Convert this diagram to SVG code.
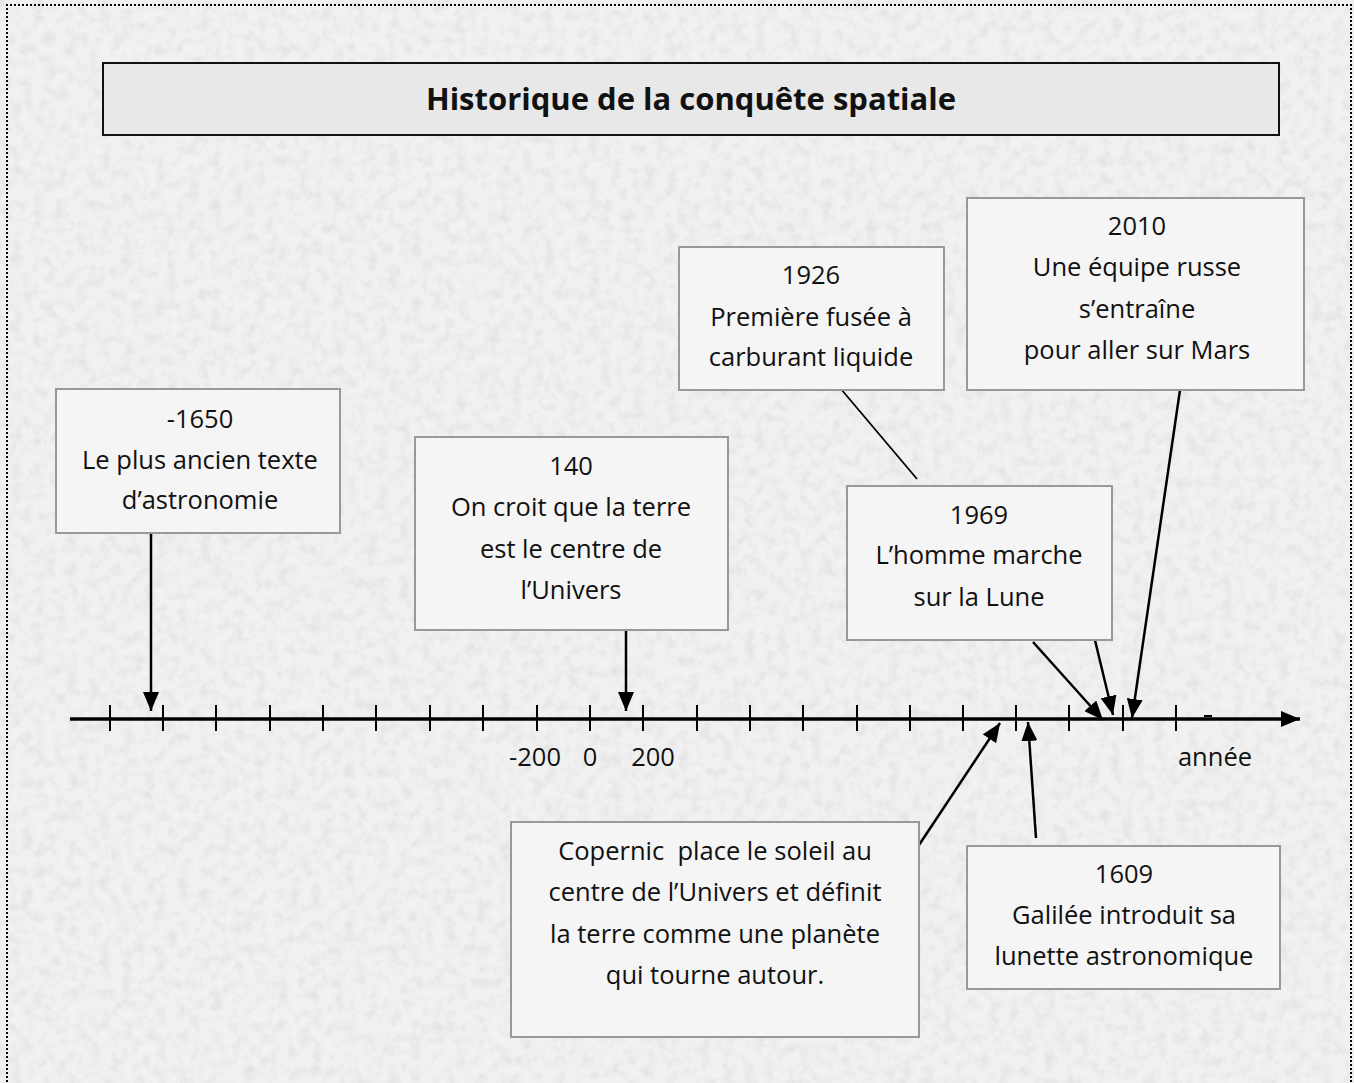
<svg xmlns="http://www.w3.org/2000/svg" width="1354" height="1083" viewBox="0 0 1354 1083">
<style>
.t{font-family:"Open Sans","Liberation Sans",sans-serif;font-size:25.5px;fill:#111;text-anchor:middle}
.title{font-family:"Open Sans","Liberation Sans",sans-serif;font-size:31px;font-weight:bold;fill:#111;text-anchor:middle}
.box{fill:#f5f5f5;stroke:#999;stroke-width:2}
.conn{stroke:#000;stroke-width:2.5;fill:none}
.tick{stroke:#000;stroke-width:2}
</style>
<defs>
<filter id="paper" x="0" y="0" width="100%" height="100%">
<feTurbulence type="fractalNoise" baseFrequency="0.09" numOctaves="3" seed="4"/>
<feColorMatrix type="matrix" values="0 0 0 0 0.55  0 0 0 0 0.55  0 0 0 0 0.55  1.3 0 0 0 -0.55"/>
</filter>
<marker id="ah" markerUnits="userSpaceOnUse" markerWidth="20" markerHeight="16" refX="19" refY="8" orient="auto">
<path d="M0,0 L19,8 L0,16 z" fill="#000"/>
</marker>
</defs>
<rect x="0" y="0" width="1354" height="1083" fill="#f1f1f1"/>
<rect x="0" y="0" width="1354" height="1083" filter="url(#paper)" opacity="0.5"/>
<path d="M7,1090 V5 H1351 V1090" fill="none" stroke="#000" stroke-width="2" stroke-dasharray="2 2" shape-rendering="crispEdges"/>

<g id="title">
<rect x="103" y="63" width="1176" height="72" fill="#e8e8e8" stroke="#111" stroke-width="2"/>
<text class="title" x="691" y="110">Historique de la conquête spatiale</text>
</g>

<g id="timeline">
<line x1="70" y1="719" x2="1300" y2="719" stroke="#000" stroke-width="3.5" marker-end="url(#ah)"/>
<g class="tick">
<line x1="110" y1="705" x2="110" y2="731"/><line x1="163" y1="705" x2="163" y2="731"/><line x1="216" y1="705" x2="216" y2="731"/><line x1="270" y1="705" x2="270" y2="731"/><line x1="323" y1="705" x2="323" y2="731"/><line x1="376" y1="705" x2="376" y2="731"/><line x1="430" y1="705" x2="430" y2="731"/><line x1="483" y1="705" x2="483" y2="731"/><line x1="537" y1="705" x2="537" y2="731"/><line x1="590" y1="705" x2="590" y2="731"/><line x1="643" y1="705" x2="643" y2="731"/><line x1="697" y1="705" x2="697" y2="731"/><line x1="750" y1="705" x2="750" y2="731"/><line x1="803" y1="705" x2="803" y2="731"/><line x1="857" y1="705" x2="857" y2="731"/><line x1="910" y1="705" x2="910" y2="731"/><line x1="963" y1="705" x2="963" y2="731"/><line x1="1016" y1="705" x2="1016" y2="731"/><line x1="1069" y1="705" x2="1069" y2="731"/><line x1="1123" y1="705" x2="1123" y2="731"/><line x1="1176" y1="705" x2="1176" y2="731"/>
</g>
<line x1="1204" y1="716" x2="1212" y2="716" stroke="#000" stroke-width="2"/>
<text class="t" x="535" y="766">-200</text>
<text class="t" x="590" y="766">0</text>
<text class="t" x="653" y="766">200</text>
<text class="t" x="1215" y="766">année</text>
</g>

<g id="connectors">
<line class="conn" x1="151" y1="533" x2="151" y2="711" marker-end="url(#ah)"/>
<line class="conn" x1="626" y1="630" x2="626" y2="711" marker-end="url(#ah)"/>
<line class="conn" x1="919" y1="845" x2="1000" y2="723" marker-end="url(#ah)"/>
<line class="conn" x1="1036" y1="838" x2="1028" y2="722" marker-end="url(#ah)"/>
<line class="conn" x1="1033" y1="642" x2="1103" y2="720" marker-end="url(#ah)"/>
<line class="conn" x1="1093" y1="632" x2="1113" y2="715" marker-end="url(#ah)"/>
<line class="conn" x1="1180" y1="390" x2="1132" y2="718" marker-end="url(#ah)"/>
<line x1="841" y1="389" x2="917" y2="479" stroke="#000" stroke-width="1.8"/>
</g>

<g id="n1650">
<rect class="box" x="56" y="389" width="284" height="144"/>
<text class="t" x="200" y="428">-1650</text>
<text class="t" x="200" y="469">Le plus ancien texte</text>
<text class="t" x="200" y="509">d’astronomie</text>
</g>

<g id="n140">
<rect class="box" x="415" y="437" width="313" height="193"/>
<text class="t" x="571" y="475">140</text>
<text class="t" x="571" y="516">On croit que la terre</text>
<text class="t" x="571" y="558">est le centre de</text>
<text class="t" x="571" y="599">l’Univers</text>
</g>

<g id="n1926">
<rect class="box" x="679" y="247" width="265" height="143"/>
<text class="t" x="811" y="284">1926</text>
<text class="t" x="811" y="326">Première fusée à</text>
<text class="t" x="811" y="366">carburant liquide</text>
</g>

<g id="n2010">
<rect class="box" x="967" y="198" width="337" height="192"/>
<text class="t" x="1137" y="235">2010</text>
<text class="t" x="1137" y="276">Une équipe russe</text>
<text class="t" x="1137" y="318">s’entraîne</text>
<text class="t" x="1137" y="359">pour aller sur Mars</text>
</g>

<g id="n1969">
<rect class="box" x="847" y="486" width="265" height="154"/>
<text class="t" x="979" y="524">1969</text>
<text class="t" x="979" y="564">L’homme marche</text>
<text class="t" x="979" y="606">sur la Lune</text>
</g>

<g id="ncopernic">
<rect class="box" x="511" y="822" width="408" height="215"/>
<text class="t" x="715" y="860" xml:space="preserve">Copernic  place le soleil au</text>
<text class="t" x="715" y="901">centre de l’Univers et définit</text>
<text class="t" x="715" y="943">la terre comme une planète</text>
<text class="t" x="715" y="984">qui tourne autour.</text>
</g>

<g id="n1609">
<rect class="box" x="967" y="846" width="313" height="143"/>
<text class="t" x="1124" y="883">1609</text>
<text class="t" x="1124" y="924">Galilée introduit sa</text>
<text class="t" x="1124" y="965">lunette astronomique</text>
</g>
</svg>
